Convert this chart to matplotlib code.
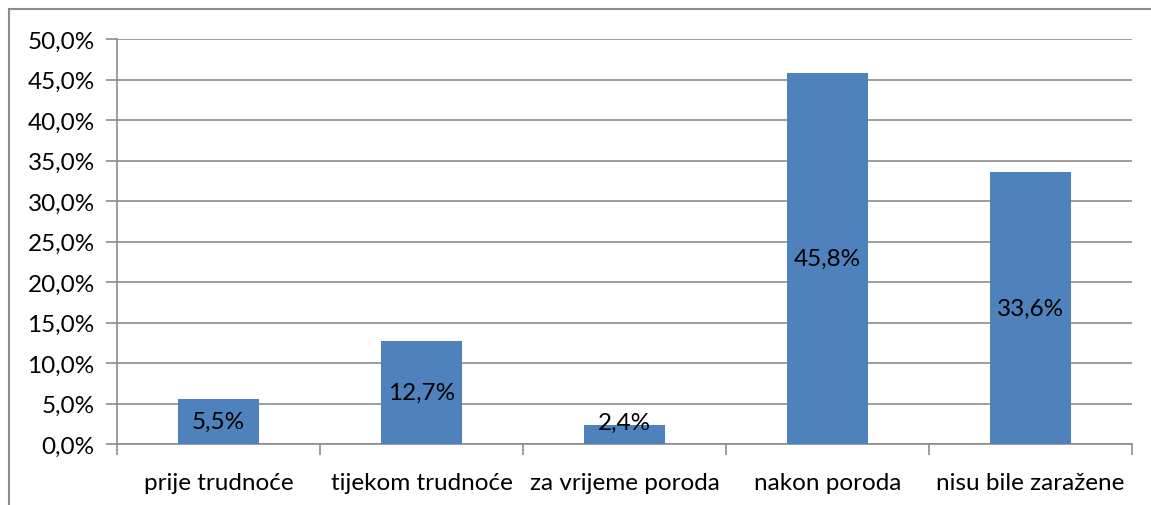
import matplotlib.pyplot as plt
from matplotlib.patches import Rectangle
from matplotlib.ticker import FuncFormatter, MultipleLocator
import numpy as np

categories = ["prije trudnoće", "tijekom trudnoće", "za vrijeme poroda", "nakon poroda", "nisu bile zaražene"]
values = [5.5, 12.7, 2.4, 45.8, 33.6]

plt.rcParams["font.family"] = ["Lato", "DejaVu Sans"]

fig = plt.figure(figsize=(11.51, 5.06), dpi=100)
ax = fig.add_axes([117 / 1151, 1 - 445 / 506, (1132 - 117) / 1151, (445 - 40) / 506])

x = np.arange(len(categories))
ax.bar(x, values, width=0.4, color="#4F81BD", zorder=3)

for xi, v in zip(x, values):
    y = max(v / 2, 2.7)
    ax.text(xi, y, f"{v:.1f}%".replace(".", ","), ha="center", va="center",
            fontsize=17.5, color="black", zorder=4)

ax.set_xlim(-0.5, len(categories) - 0.5)
ax.set_ylim(0, 50)
ax.yaxis.set_major_locator(MultipleLocator(5))
ax.yaxis.set_major_formatter(FuncFormatter(lambda v, p: f"{v:.1f}%".replace(".", ",")))
ax.grid(axis="y", color="#8C8C8C", linewidth=1.2, zorder=0)

ax.set_xticks(np.arange(len(categories) + 1) - 0.5, minor=False)
ax.set_xticklabels([])
ax.set_xticks(x, minor=True)
ax.set_xticklabels(categories, minor=True)
ax.tick_params(axis="x", which="major", length=8, color="#8C8C8C", width=1.2)
ax.tick_params(axis="x", which="minor", length=0, labelsize=17.5, pad=20)
ax.tick_params(axis="y", length=8, color="#8C8C8C", width=1.2, labelsize=17.5, pad=8)

for s in ["top", "right"]:
    ax.spines[s].set_visible(False)
for s in ["left", "bottom"]:
    ax.spines[s].set_color("#8C8C8C")
    ax.spines[s].set_linewidth(1.2)

fig.patches.append(Rectangle((9 / 1151, -0.1), 1.2, 1 - 10 / 506 + 0.1,
                             transform=fig.transFigure, fill=False,
                             edgecolor="#8C8C8C", linewidth=1.5))

fig.savefig("out.png", dpi=100)
